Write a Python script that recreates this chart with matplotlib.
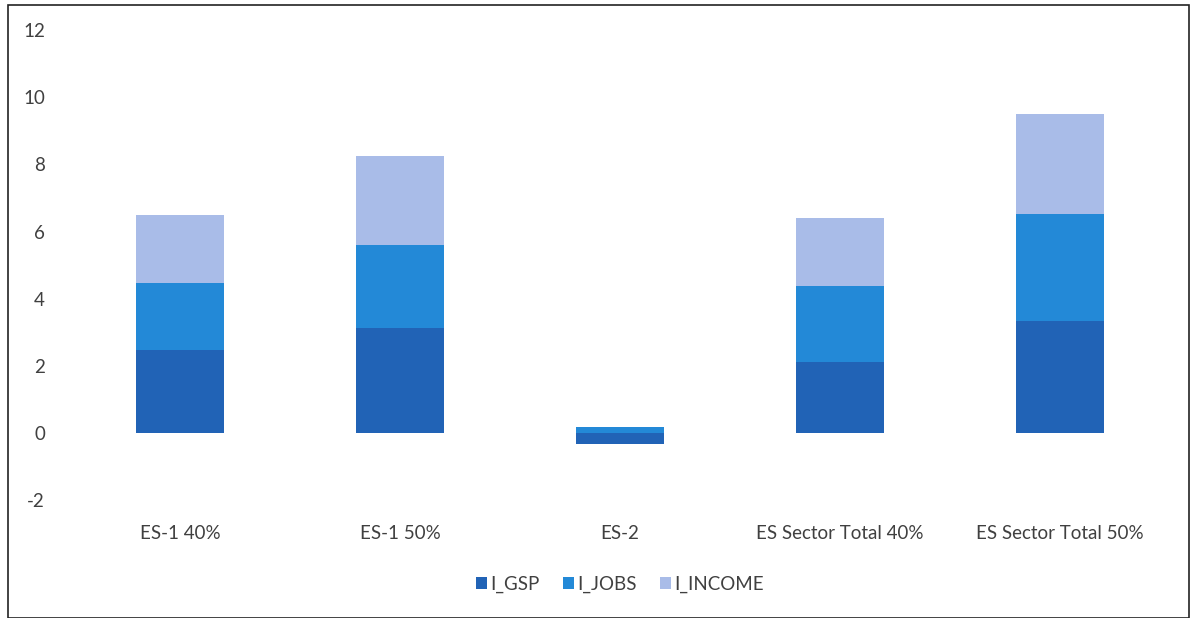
import matplotlib
matplotlib.use('Agg')
import matplotlib.pyplot as plt
import matplotlib.patches as mpatches
import numpy as np

categories = ['ES-1 40%', 'ES-1 50%', 'ES-2', 'ES Sector Total 40%', 'ES Sector Total 50%']
i_gsp = [2.47, 3.12, -0.33, 2.11, 3.33]
i_jobs = [2.0, 2.48, 0.17, 2.26, 3.18]
i_income = [2.03, 2.65, 0.0, 2.02, 2.98]

series = [('I_GSP', i_gsp, '#2163b6'), ('I_JOBS', i_jobs, '#2389d7'), ('I_INCOME', i_income, '#a9bce8')]

plt.rcParams['font.family'] = ['Lato', 'DejaVu Sans']
plt.rcParams['axes.unicode_minus'] = False

fig = plt.figure(figsize=(11.95, 6.18), dpi=100)
ax = fig.add_axes([0.0586, 0.191, 0.9204, 0.760])

x = np.arange(len(categories))
pos_base = np.zeros(len(categories))
neg_base = np.zeros(len(categories))
for name, vals, color in series:
    vals = np.array(vals)
    bottoms = np.where(vals >= 0, pos_base, neg_base)
    ax.bar(x, vals, width=0.4, bottom=bottoms, color=color, label=name)
    pos_base += np.clip(vals, 0, None)
    neg_base += np.clip(vals, None, 0)

ax.set_xlim(-0.5, len(categories) - 0.5)
ax.set_ylim(-2, 12)
ax.set_yticks(range(-2, 13, 2))
ax.set_xticks(x)
ax.set_xticklabels(categories)
for s in ax.spines.values():
    s.set_visible(False)
ax.tick_params(axis='both', length=0, labelsize=13.5, colors='#404040')
ax.tick_params(axis='x', pad=18)
ax.tick_params(axis='y', pad=18)

ax.legend(loc='upper center', bbox_to_anchor=(0.5, -0.125), ncol=3, frameon=False,
          fontsize=13.5, handlelength=0.6, handleheight=0.6, handletextpad=0.2,
          columnspacing=1.2, labelcolor='#404040')

fig.patches.append(mpatches.Rectangle((0.007, 0.0), 0.988, 0.992, transform=fig.transFigure,
                                      fill=False, edgecolor='#222222', linewidth=1.2))

fig.savefig('out.png', dpi=100)
